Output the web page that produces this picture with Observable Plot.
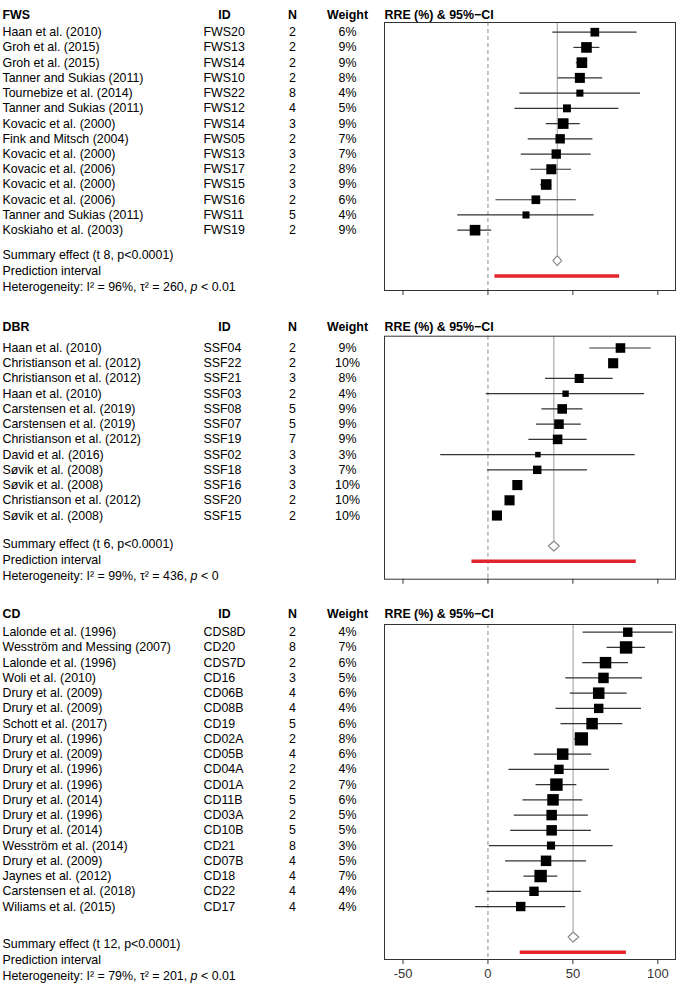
<!DOCTYPE html>
<html>
<head>
<meta charset="utf-8">
<script src="https://cdn.jsdelivr.net/npm/d3@7"></script>
<script src="https://cdn.jsdelivr.net/npm/@observablehq/plot@0.6"></script>
<style>
  body { margin: 0; background: #fff; }
  #chart { width: 676px; }
  #chart svg { display: block; }
</style>
</head>
<body>
<div id="chart"></div>
<script>
// ---------- DATA ----------
const xTicks = [-50, 0, 50, 100];
const headerCols = ["ID", "N", "Weight", "RRE (%) & 95%\u2212CI"];

// FWS
const fwsStudy = ["Haan et al. (2010)", "Groh et al. (2015)", "Groh et al. (2015)", "Tanner and Sukias (2011)", "Tournebize et al. (2014)", "Tanner and Sukias (2011)", "Kovacic et al. (2000)", "Fink and Mitsch (2004)", "Kovacic et al. (2000)", "Kovacic et al. (2006)", "Kovacic et al. (2000)", "Kovacic et al. (2006)", "Tanner and Sukias (2011)", "Koskiaho et al. (2003)"];
const fwsId = ["FWS20", "FWS13", "FWS14", "FWS10", "FWS22", "FWS12", "FWS14", "FWS05", "FWS13", "FWS17", "FWS15", "FWS16", "FWS11", "FWS19"];
const fwsN = [2, 2, 2, 2, 8, 4, 3, 2, 3, 2, 3, 2, 5, 2];
const fwsWeight = [6, 9, 9, 8, 4, 5, 9, 7, 7, 8, 9, 6, 4, 9];
const fwsEst = [62.9, 58.0, 55.3, 54.1, 54.1, 46.5, 44.3, 42.5, 40.2, 37.3, 34.3, 28.2, 22.4, -7.6];
const fwsLo = [38.2, 50.6, 52.0, 41.2, 18.8, 15.9, 34.3, 23.7, 19.6, 25.3, 31.0, 4.7, -17.8, -17.8];
const fwsHi = [87.8, 65.9, 58.5, 67.6, 89.8, 77.1, 54.3, 61.8, 60.8, 49.2, 37.5, 52.0, 62.5, 2.2];
const fwsSummary = {est: 40.8, lo: 38.2, hi: 43.4, predLo: 4.1, predHi: 77.5};
const fwsText = ["Summary effect (t 8, p<0.0001)", "Prediction interval", "Heterogeneity: I\u00B2 = 96%, \u03C4\u00B2 = 260, p < 0.01"];

// DBR
const dbrStudy = ["Haan et al. (2010)", "Christianson et al. (2012)", "Christianson et al. (2012)", "Haan et al. (2010)", "Carstensen et al. (2019)", "Carstensen et al. (2019)", "Christianson et al. (2012)", "David et al. (2016)", "S\u00F8vik et al. (2008)", "S\u00F8vik et al. (2008)", "Christianson et al. (2012)", "S\u00F8vik et al. (2008)"];
const dbrId = ["SSF04", "SSF22", "SSF21", "SSF03", "SSF08", "SSF07", "SSF19", "SSF02", "SSF18", "SSF16", "SSF20", "SSF15"];
const dbrN = [2, 2, 3, 2, 5, 5, 7, 3, 3, 3, 2, 2];
const dbrWeight = [9, 10, 8, 4, 9, 9, 9, 3, 7, 10, 10, 10];
const dbrEst = [78.0, 73.7, 53.7, 45.7, 43.7, 41.8, 41.0, 29.4, 29.0, 17.3, 12.7, 5.3];
const dbrLo = [60.0, 71.0, 33.9, -1.0, 31.8, 28.6, 24.1, -27.8, -0.2, 15.0, 10.5, 3.2];
const dbrHi = [96.1, 76.3, 73.7, 92.2, 55.9, 54.9, 58.4, 86.7, 58.6, 19.6, 14.9, 7.4];
const dbrSummary = {est: 38.8, lo: 35.6, hi: 42.0, predLo: -9.4, predHi: 87.3};
const dbrText = ["Summary effect (t 6, p<0.0001)", "Prediction interval", "Heterogeneity: I\u00B2 = 99%, \u03C4\u00B2 = 436, p < 0"];

// CD
const cdStudy = ["Lalonde et al. (1996)", "Wesstr\u00F6m and Messing (2007)", "Lalonde et al. (1996)", "Woli et al. (2010)", "Drury et al. (2009)", "Drury et al. (2009)", "Schott et al. (2017)", "Drury et al. (1996)", "Drury et al. (2009)", "Drury et al. (1996)", "Drury et al. (1996)", "Drury et al. (2014)", "Drury et al. (1996)", "Drury et al. (2014)", "Wesstr\u00F6m et al. (2014)", "Drury et al. (2009)", "Jaynes et al. (2012)", "Carstensen et al. (2018)", "Wiliams et al. (2015)"];
const cdId = ["CDS8D", "CD20", "CDS7D", "CD16", "CD06B", "CD08B", "CD19", "CD02A", "CD05B", "CD04A", "CD01A", "CD11B", "CD03A", "CD10B", "CD21", "CD07B", "CD18", "CD22", "CD17"];
const cdN = [2, 8, 2, 3, 4, 4, 5, 2, 4, 2, 2, 5, 2, 5, 8, 4, 4, 4, 4];
const cdWeight = [4, 7, 6, 5, 6, 4, 6, 8, 6, 4, 7, 6, 5, 5, 3, 5, 7, 4, 4];
const cdEst = [82.3, 81.3, 69.2, 68.0, 65.2, 65.2, 61.3, 55.0, 44.0, 41.8, 40.3, 38.3, 37.5, 37.5, 37.1, 34.2, 31.0, 27.1, 19.3];
const cdLo = [56.0, 70.1, 55.8, 45.8, 48.5, 40.1, 43.0, 51.0, 27.3, 12.4, 28.3, 20.6, 15.5, 13.4, 0.8, 10.4, 21.2, -0.6, -7.3];
const cdHi = [109.0, 92.7, 82.7, 91.0, 81.9, 90.4, 79.4, 59.0, 61.1, 71.5, 52.3, 55.8, 59.1, 60.9, 73.7, 58.0, 41.1, 55.0, 45.8];
const cdSummary = {est: 50.1, lo: 47.2, hi: 53.4, predLo: 19.0, predHi: 81.5};
const cdText = ["Summary effect (t 12, p<0.0001)", "Prediction interval", "Heterogeneity: I\u00B2 = 79%, \u03C4\u00B2 = 201, p < 0.01"];

// ---------- DRAWING ----------
const FONT = "'Liberation Sans', Arial, Helvetica, sans-serif";
const RED = "#e3232b";

function panel(cfg) {
  const rows = cfg.study.map((s, i) => ({
    row: i + 1, study: s, id: cfg.id[i], n: cfg.n[i], w: cfg.weight[i],
    wl: cfg.weight[i] + "%", est: cfg.est[i], lo: cfg.lo[i], hi: cfg.hi[i]
  }));
  const k = rows.length;
  const sumRow = k + 2, predRow = k + 3, dh = 0.33;
  const S = cfg.summary;
  const diamond = [
    {x: S.lo, y: sumRow}, {x: S.est, y: sumRow - dh}, {x: S.hi, y: sumRow},
    {x: S.est, y: sumRow + dh}, {x: S.lo, y: sumRow}
  ];
  const notes = cfg.text.map((t, i) => ({t, row: cfg.textRows[i]}));
  const hdr = {frameAnchor: "top-left", dy: cfg.hdy, fontWeight: "bold"};

  const svg = Plot.plot({
    width: 676, height: cfg.height,
    marginLeft: 384, marginRight: 1, marginTop: cfg.mt, marginBottom: cfg.mb,
    style: {fontFamily: FONT, fontSize: "12.4px", color: "#000", background: "#fff"},
    x: {domain: [-60.9, 110.4]},
    y: {domain: cfg.ydomain, reverse: true, axis: null},
    r: {type: "sqrt", domain: [0, cfg.wmax], range: [0, cfg.rmax]},
    marks: [
      Plot.ruleX([0], {stroke: "#8c8c8c", strokeDasharray: "4,3"}),
      Plot.ruleX([S.est], {y1: cfg.ydomain[0], y2: sumRow - dh, stroke: "#9a9a9a"}),
      Plot.ruleY(rows, {y: "row", x1: "lo", x2: "hi", stroke: "#333", strokeWidth: 1.2}),
      Plot.dot(rows, {x: "est", y: "row", r: "w", symbol: "square", fill: "#000", stroke: null}),
      Plot.line(diamond, {x: "x", y: "y", stroke: "#8c8c8c", strokeWidth: 1.2, fill: "#fff"}),
      Plot.ruleY([S], {y: predRow, x1: "predLo", x2: "predHi", stroke: RED, strokeWidth: 3.5}),
      Plot.frame({stroke: "#333"}),
      Plot.axisX({ticks: xTicks, tickSize: 5, tickPadding: 4, color: "#333", label: null, fontSize: 13,
        tickFormat: cfg.labels ? (d => String(d)) : (() => "")}),
      // left table
      Plot.text(rows, {y: "row", text: "study", frameAnchor: "left", dx: -382, textAnchor: "start"}),
      Plot.text(rows, {y: "row", text: "id", frameAnchor: "left", dx: -181, textAnchor: "start"}),
      Plot.text(rows, {y: "row", text: "n", frameAnchor: "left", dx: -92, textAnchor: "middle"}),
      Plot.text(rows, {y: "row", text: "wl", frameAnchor: "left", dx: -37, textAnchor: "middle"}),
      Plot.text(notes, {y: "row", text: "t", frameAnchor: "left", dx: -382, textAnchor: "start"}),
      // headers
      Plot.text([cfg.label], {...hdr, dx: -382, textAnchor: "start"}),
      Plot.text([headerCols[0]], {...hdr, dx: -160, textAnchor: "middle"}),
      Plot.text([headerCols[1]], {...hdr, dx: -92, textAnchor: "middle"}),
      Plot.text([headerCols[2]], {...hdr, dx: -37, textAnchor: "middle"}),
      Plot.text([headerCols[3]], {...hdr, dx: 0, textAnchor: "start"})
    ]
  });

  // italic "p" in the heterogeneity line
  d3.select(svg).selectAll("text").each(function () {
    const s = this.textContent;
    const j = s.indexOf(", p < ");
    if (s.startsWith("Heterogeneity") && j >= 0) {
      const sel = d3.select(this);
      sel.text(null);
      sel.append("tspan").text(s.slice(0, j + 2));
      sel.append("tspan").attr("font-style", "italic").text("p");
      sel.append("tspan").text(s.slice(j + 3));
    }
  });
  return svg;
}

const chart = document.getElementById("chart");
chart.append(panel({
  label: "FWS", study: fwsStudy, id: fwsId, n: fwsN, weight: fwsWeight,
  est: fwsEst, lo: fwsLo, hi: fwsHi, summary: fwsSummary, text: fwsText,
  textRows: [15.6, 16.65, 17.7],
  height: 305, mt: 22, mb: 15, ydomain: [0.363, 17.96], wmax: 9, rmax: 6.0, hdy: -12, labels: false
}));
chart.append(panel({
  label: "DBR", study: dbrStudy, id: dbrId, n: dbrN, weight: dbrWeight,
  est: dbrEst, lo: dbrLo, hi: dbrHi, summary: dbrSummary, text: dbrText,
  textRows: [13.9, 14.95, 16.0],
  height: 288, mt: 30.7, mb: 14.3, ydomain: [0.225, 16.18], wmax: 10, rmax: 5.7, hdy: -14, labels: false
}));
chart.append(panel({
  label: "CD", study: cdStudy, id: cdId, n: cdN, weight: cdWeight,
  est: cdEst, lo: cdLo, hi: cdHi, summary: cdSummary, text: cdText,
  textRows: [21.43, 22.48, 23.53],
  height: 390, mt: 31, mb: 24, ydomain: [0.495, 22.475], wmax: 8, rmax: 7.5, hdy: -15, labels: true
}));
</script>
</body>
</html>
